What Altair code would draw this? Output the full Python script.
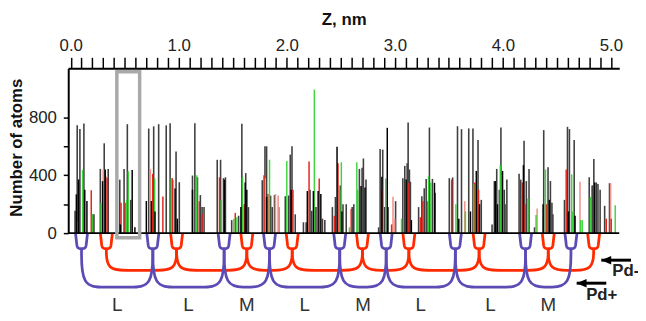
import altair as alt
import pandas as pd

# ---------------- spike data (Z in nm, number of atoms) ----------------
grey_z = [0.04, 0.06, 0.085, 0.122, 0.20, 0.215, 0.274, 0.31, 0.347, 0.454, 0.494, 0.524, 0.555,
          0.722, 0.768, 0.814, 0.884, 0.92, 0.975, 1.005, 1.127, 1.149, 1.173, 1.20, 1.216, 1.234,
          1.356, 1.387, 1.414, 1.432, 1.49, 1.554, 1.584, 1.62, 1.645, 1.773, 1.798, 1.813, 1.85,
          1.865, 1.886, 1.925, 1.986, 2.017, 2.032, 2.048, 2.078, 2.154, 2.179, 2.215, 2.23, 2.27,
          2.33, 2.352, 2.422, 2.45, 2.495, 2.52, 2.55, 2.605, 2.62, 2.672, 2.697, 2.709, 2.733,
          2.85, 2.864, 2.888, 2.907, 3.007, 3.074, 3.092, 3.114, 3.123, 3.135, 3.144, 3.22, 3.25,
          3.272, 3.29, 3.32, 3.348, 3.373, 3.504, 3.535, 3.58, 3.617, 3.684, 3.723, 3.77, 3.80,
          3.90, 3.921, 3.943, 3.967, 3.982, 4.013, 4.02, 4.037, 4.15, 4.165, 4.196, 4.217, 4.242,
          4.293, 4.378, 4.418, 4.44, 4.454, 4.463, 4.57, 4.598, 4.616, 4.66, 4.799, 4.826, 4.835,
          4.842, 4.865, 4.88, 4.90, 4.942, 4.987]
grey_n = [154, 745, 720, 758, 131, 131, 444, 621, 444, 370, 444, 753, 230,
          723, 738, 753, 745, 760, 565, 352, 398, 760, 386, 263, 180, 180,
          507, 507, 380, 386, 90, 120, 756, 415, 180, 366, 600, 600, 259,
          180, 263, 180, 255, 260, 543, 600, 130, 75, 75, 300, 154, 180,
          100, 90, 180, 250, 330, 200, 200, 180, 200, 444, 452, 516, 370,
          40, 582, 577, 180, 221, 380, 465, 483, 764, 440, 355, 180, 255,
          310, 375, 730, 375, 280, 380, 385, 739, 719, 724, 724, 643, 230,
          60, 360, 444, 300, 730, 300, 200, 370, 410, 370, 639, 360, 444,
          40, 712, 455, 360, 210, 130, 230, 735, 719, 644, 386, 330, 330,
          512, 350, 340, 300, 189, 345]

black_z = [0.052, 0.073, 0.13, 0.15, 0.295, 0.32, 0.46, 0.569, 0.594, 0.70, 0.746, 0.78, 0.966,
           0.987, 1.127, 1.423, 1.575, 1.615, 1.63, 1.813, 2.04, 2.19, 2.246, 2.29, 2.315, 2.465,
           2.51, 2.687, 2.724, 2.88, 2.93, 2.936, 3.105, 3.153, 3.367, 3.592, 3.70, 3.754, 3.784,
           3.93, 3.95, 3.997, 4.19, 4.372, 4.43, 4.607, 4.668, 4.85]
black_n = [268, 371, 300, 222, 359, 440, 60, 436, 40, 222, 222, 150, 309,
           100, 300, 370, 180, 350, 300, 250, 300, 291, 291, 291, 270, 598,
           150, 325, 315, 390, 728, 180, 370, 90, 348, 100, 150, 430, 200,
           360, 200, 430, 470, 200, 230, 150, 120, 350]

red_z = [0.06, 0.19, 0.326, 0.34, 0.466, 0.503, 0.759, 0.853, 0.94, 1.19, 1.216, 1.377, 1.523,
         1.606, 1.789, 1.825, 2.057, 2.206, 2.30, 2.44, 2.474, 2.596, 2.88, 2.97, 3.129, 3.236,
         3.26, 3.306, 3.37, 3.526, 3.74, 3.775, 4.18, 4.205, 4.403, 4.586, 4.957, 5.003]
red_n = [80, 296, 390, 381, 210, 210, 410, 253, 380, 220, 130, 386, 140,
         200, 400, 270, 300, 496, 377, 120, 483, 166, 300, 60, 348, 110,
         221, 221, 100, 370, 350, 300, 350, 200, 200, 440, 100, 100]

pink_z = [0.30, 0.737, 0.95, 1.80, 1.895, 1.92, 2.983, 2.998, 3.647, 4.317, 4.714, 4.997]
pink_n = [440, 444, 366, 380, 270, 260, 252, 100, 221, 170, 355, 345]

green_z = [0.11, 0.20, 0.28, 0.518, 0.533, 0.777, 0.93, 1.167, 1.392, 1.51, 1.538, 1.59, 1.84,
           2.00, 2.255, 2.49, 2.505, 2.58, 2.648, 2.657, 2.916, 3.062, 3.312, 3.333, 3.565, 3.653,
           3.73, 3.976, 3.99, 4.232, 4.307, 4.394, 4.637, 4.646, 4.72, 4.735, 4.81, 5.04]
green_n = [438, 131, 207, 230, 427, 380, 380, 400, 230, 100, 110, 386, 507,
           498, 992, 300, 490, 40, 490, 300, 377, 100, 393, 350, 200, 150,
           340, 470, 400, 240, 125, 440, 406, 150, 90, 90, 250, 193]

# ---------------- annotation data ----------------
blue_u = [0.10, 0.76, 1.42, 1.84, 2.49, 2.92, 3.56, 4.21, 4.63]     # Pd+ layer centres
red_u = [0.33, 0.98, 1.63, 2.05, 2.70, 3.13, 3.78, 4.42, 4.84]      # Pd- layer centres
stack_labels = ["L", "L", "M", "L", "M", "L", "L", "M"]
box_z = [0.427, 0.638]        # highlighted region
box_n = [1116, -32]
arrow_names = ["Pd-", "Pd+"]
arrow_tip = [4.911, 4.683]
arrow_tail = [5.186, 4.957]
arrow_level = [-187, -346]
arrow_text_z = [5.012, 4.771]
arrow_text_n = [-261, -431]

X_TICKS = [round(i * 0.1, 1) for i in range(51)]
Y_TICKS = [0, 200, 400, 600, 800]

W, H = 558, 167
FONT = "Liberation Sans"
xscale = alt.Scale(domain=[-0.023, 5.077], nice=False, zero=False)
yscale = alt.Scale(domain=[0, 1140], nice=False, zero=False)

xaxis = alt.Axis(orient="top", values=X_TICKS, grid=False,
                 labelExpr="abs(datum.value - round(datum.value)) < 0.001 ? format(datum.value, '.1f') : ''",
                 labelOverlap=False, labelFlush=False, tickSize=11, tickWidth=1.5,
                 tickColor="black", domainColor="black", domainWidth=2,
                 labelFont=FONT, labelFontSize=17, labelColor="#222", labelPadding=3,
                 title="Z, nm", titleFont=FONT, titleFontSize=17, titleFontWeight="bold",
                 titleColor="#111", titlePadding=8)
yaxis = alt.Axis(orient="left", values=Y_TICKS, grid=False,
                 labelExpr="datum.value % 400 == 0 ? datum.label : ''",
                 labelOverlap=False, labelFlush=False, tickSize=5, tickWidth=1.5,
                 tickColor="black", domainColor="black", domainWidth=2,
                 labelFont=FONT, labelFontSize=17, labelColor="#222", labelPadding=7,
                 title="Number of atoms", titleFont=FONT, titleFontSize=17,
                 titleFontWeight="bold", titleColor="#111", titleAngle=270,
                 titleX=-43, titleY=80, titleAlign="center", titleBaseline="bottom")


def X(field="z"):
    return alt.X(f"{field}:Q", scale=xscale, axis=xaxis)


def Y(field="n"):
    return alt.Y(f"{field}:Q", scale=yscale, axis=yaxis)


def spikes(z, n, color, width, opacity=1.0):
    df = pd.DataFrame({"z": z, "n": n})
    return alt.Chart(df).mark_rule(color=color, strokeWidth=width, opacity=opacity).encode(
        x=X(), y=Y(), y2=alt.datum(0))


layers = [
    spikes(grey_z, grey_n, "#404040", 1.6),
    spikes(pink_z, pink_n, "#f2958c", 1.6),
    spikes(red_z, red_n, "#e3261c", 1.5),
    spikes(green_z, green_n, "#2ed02e", 1.5, 0.9),
    spikes(black_z, black_n, "#000000", 1.5),
]

# zero line (bottom axis line)
layers.append(alt.Chart(pd.DataFrame({"a": [0]})).mark_rule(color="black", strokeWidth=2).encode(
    x=alt.value(0), x2=alt.value(W), y=alt.value(H)))

# grey highlight box
box_df = pd.DataFrame({"z": [box_z[0]], "z2": [box_z[1]], "n": [box_n[0]], "n2": [box_n[1]]})
layers.append(alt.Chart(box_df).mark_rect(fillOpacity=0, stroke="#a9a9a9", strokeWidth=3.5).encode(
    x=X(), x2="z2:Q", y=Y(), y2="n2:Q"))


# brackets
def bracket_df(centers, y_bottom, y_h, d, tag):
    rows = []
    for k in range(len(centers) - 1):
        x1, x2 = centers[k], centers[k + 1]
        pts = [(x1, y_bottom), (x1, y_h), (x1 + 2 * d, y_h), (x2 - 2 * d, y_h), (x2, y_h), (x2, y_bottom)]
        for i, (x, y) in enumerate(pts):
            rows.append({"b": f"{tag}{k}", "i": i, "z": x, "n": y})
    return pd.DataFrame(rows)


D = 0.105
for centers, yh, col in [(red_u, -257, "#ff2a00"), (blue_u, -373, "#5b4cb5")]:
    bdf = bracket_df(centers, -107, yh, D, col)
    layers.append(alt.Chart(bdf).mark_line(color=col, strokeWidth=2.8, interpolate="basis").encode(
        x=X(), y=Y(), detail="b:N", order="i:Q"))

U_PATH = "M -1 -1.25 L -0.78 0.7 Q -0.68 1.25 -0.3 1.25 L 0.3 1.25 Q 0.68 1.25 0.78 0.7 L 1 -1.25"
for centers, col in [(red_u, "#ff2a00"), (blue_u, "#5b4cb5")]:
    udf = pd.DataFrame({"z": centers, "n": [-56] * len(centers)})
    layers.append(alt.Chart(udf).mark_point(shape=U_PATH, size=144, filled=False, stroke=col,
                                            strokeWidth=2.8, opacity=1).encode(x=X(), y=Y()))

# stacking labels
lab_df = pd.DataFrame({"z": [(blue_u[k] + blue_u[k + 1]) / 2 for k in range(len(stack_labels))],
                       "n": [-498] * len(stack_labels), "t": stack_labels})
layers.append(alt.Chart(lab_df).mark_text(font=FONT, fontSize=19, color="#333", baseline="middle").encode(
    x=X(), y=Y(), text="t:N"))

# arrows
arr_df = pd.DataFrame({"z": arrow_tip, "z2": arrow_tail, "n": arrow_level})
layers.append(alt.Chart(arr_df).mark_rule(color="black", strokeWidth=3).encode(x=X(), x2="z2:Q", y=Y()))
layers.append(alt.Chart(arr_df).mark_point(shape="M 0 0 L 2 -0.85 L 2 0.85 Z", size=100, filled=True,
                                           color="black", opacity=1).encode(x=X(), y=Y()))
txt_df = pd.DataFrame({"z": arrow_text_z, "n": arrow_text_n, "t": arrow_names})
layers.append(alt.Chart(txt_df).mark_text(font=FONT, fontSize=17, fontWeight="bold", color="#222",
                                          align="left", baseline="middle").encode(x=X(), y=Y(), text="t:N"))

chart = alt.layer(*layers).properties(
    width=W, height=H,
    autosize=alt.AutoSizeParams(type="none"),
    padding={"left": 61, "top": 59, "right": 19, "bottom": 87},
    background="white",
).configure_view(stroke=None)

chart.save("out.html", embed_options={"renderer": "svg", "actions": False})
